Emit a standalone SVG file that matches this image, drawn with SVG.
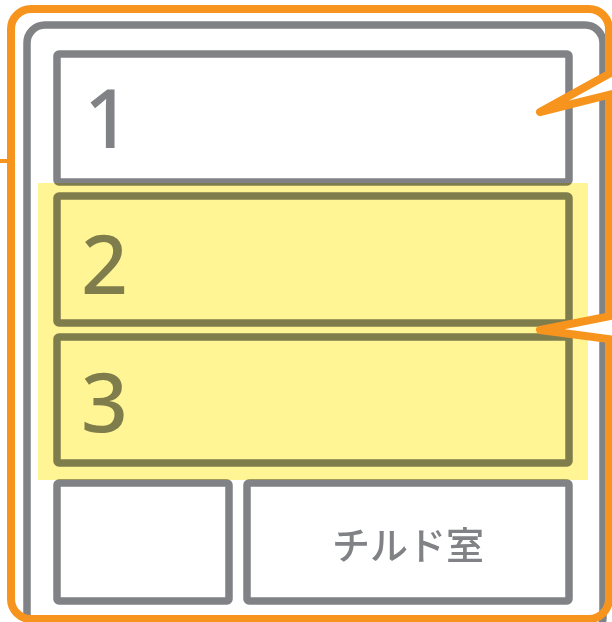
<svg xmlns="http://www.w3.org/2000/svg" width="612" height="622" viewBox="0 0 612 622">
<style>
.box{fill:#ffffff;stroke:#808285;stroke-width:7.5}
.num{font-family:"Noto Sans",sans-serif;font-weight:500;font-size:82px;fill:#808285}
.lbl{font-family:"Noto Sans CJK JP",sans-serif;font-weight:500;font-size:38px;fill:#808285}
.tail{fill:#ffffff;stroke:#f7941d;stroke-width:8;stroke-linejoin:round;stroke-linecap:round}
</style>
<rect width="612" height="622" fill="#ffffff"/>
<g id="frame">
<rect x="27" y="25" width="576" height="610" rx="18" fill="#ffffff" stroke="#808285" stroke-width="7.5"/>
<rect x="11" y="9" width="598" height="610" rx="20" fill="none" stroke="#f7941d" stroke-width="8"/>
<line x1="0" y1="161" x2="10" y2="161" stroke="#f7941d" stroke-width="4"/>
</g>
<g id="box1"><rect class="box" x="57" y="54" width="512" height="128" rx="2"/><text class="num" x="84" y="148">1</text></g>
<g id="box2"><rect class="box" x="57" y="196" width="512" height="127" rx="2"/><text class="num" x="81" y="294">2</text></g>
<g id="box3"><rect class="box" x="57" y="337" width="512" height="126" rx="2"/><text class="num" x="81" y="432">3</text></g>
<g id="box4"><rect class="box" x="57" y="483" width="172" height="118" rx="2"/></g>
<g id="box5"><rect class="box" x="247" y="483" width="322" height="118" rx="2"/><text class="lbl" x="408" y="559" text-anchor="middle">チルド室</text></g>
<g id="highlight"><rect x="38" y="183" width="550" height="297" fill="#fff594" style="mix-blend-mode:multiply"/></g>
<g id="connectors">
<path class="tail" d="M616 70 L540 112 L616 93"/>
<path class="tail" d="M616 315 L540 330 L616 340"/>
</g>
</svg>
